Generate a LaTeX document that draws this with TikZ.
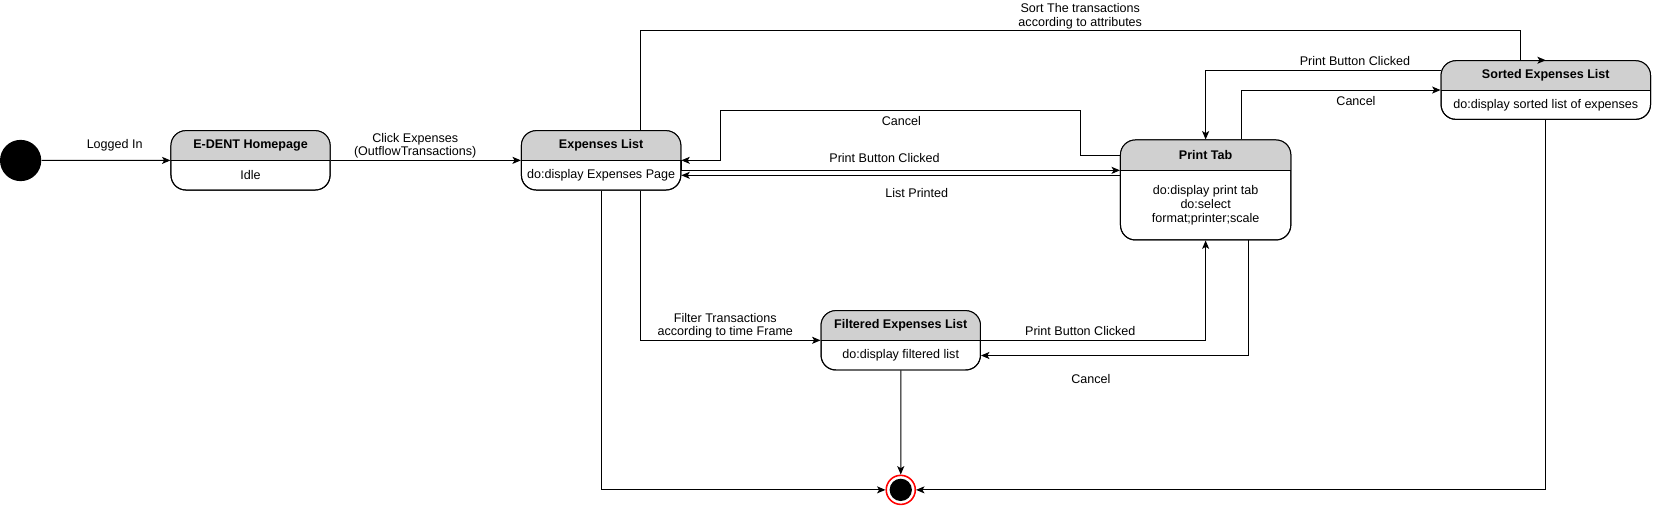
\documentclass[tikz,border=0pt]{standalone}
\usepackage{fontspec}
\setmainfont{Liberation Sans}
\usetikzlibrary{arrows.meta}
\definecolor{hdr}{HTML}{D0D0D0}
\tikzset{
  every node/.style={font=\fontsize{8.9}{9.6}\selectfont},
  stline/.style={line width=0.7pt, rounded corners=10.5pt},
  stbox/.style={draw, fill=white, line width=0.7pt, rounded corners=10.5pt, inner sep=0pt},
  hdrtxt/.style={font=\fontsize{8.9}{9.6}\selectfont\bfseries, inner sep=0pt},
  bodytxt/.style={align=center, inner sep=0pt, font=\fontsize{8.9}{9.9}\selectfont},
  lbl/.style={align=center, inner sep=0pt},
  arr/.style={-{Stealth[length=6pt,width=5pt,inset=1.5pt]}, line width=0.7pt},
}
% name, x1, y1, x2, y2, ysplit, header, body
\newcommand\ustate[8]{%
  \node[stbox, minimum width={(#4-#2)*0.75pt}, minimum height={(#5-#3)*0.75pt}] (#1) at ({(#2+#4)/2},{(#3+#5)/2}) {};
  \begin{scope}
    \clip[rounded corners=10.5pt] (#2,#3) rectangle (#4,#5);
    \fill[hdr] (#2,#3) rectangle (#4,#6);
  \end{scope}
  \draw[stline] (#2,#3) rectangle (#4,#5);
  \draw[line width=0.7pt] (#2,#6) -- (#4,#6);
  \node[hdrtxt] (#1-hdr) at ({(#2+#4)/2},{(#3+#6)/2}) {#7};
  \node[bodytxt] (#1-body) at ({(#2+#4)/2},{(#6+#5)/2}) {#8};
}
\begin{document}
\begin{tikzpicture}[x=0.75pt, y=-0.75pt]
\useasboundingbox (0,0) rectangle (1568,478);

% states
\node[circle, fill=black, minimum size=29.25pt, inner sep=0pt] (init) at (19.5,151.7) {};
\ustate{home}{161.6}{123.5}{312}{179.6}{152}{E-DENT Homepage}{Idle}
\ustate{exp}{492.8}{123.5}{643.5}{179.6}{152}{Expenses List}{do:display Expenses Page}
\ustate{print}{1059}{132.3}{1220}{226.8}{161.3}{Print Tab}{do:display print tab\\do:select\\format;printer;scale}
\ustate{sorted}{1362}{57.4}{1560}{112.8}{85.7}{Sorted Expenses List}{do:display sorted list of expenses}
\ustate{filt}{776}{293.6}{926.7}{349.7}{321.7}{Filtered Expenses List}{do:display filtered list}
\node[circle, draw=red, line width=1.1pt, fill=white, minimum size=20.6pt, inner sep=0pt] (final) at (851.35,463) {};
\fill[black] (final.center) circle[radius=7.9pt];

% helper coordinates
\coordinate (yPBexp) at (0,161);
\coordinate (yLP) at (0,165.7);
\coordinate (yCan) at (0,146.5);
\coordinate (cxR) at (1021.6,104);
\coordinate (cxL) at (681,104);
\coordinate (sx) at (605.6,29);
\coordinate (sy) at (1437,29);
\coordinate (yPBs) at (0,66.8);
\coordinate (xCs) at (1173,0);
\coordinate (xCf) at (1180,0);
\coordinate (yCf) at (0,336);

% connectors
\draw[arr] (init) -- (home);
\draw[arr] (home) -- (exp);
\draw[arr] (exp.east) -- (exp.east |- yPBexp) -- (print.west |- yPBexp);
\draw[arr] (print.west |- yLP) -- (exp.east |- yLP);
\draw[arr] (print.west |- yCan) -| (cxR) -- (cxL) |- (exp.east);
\draw[arr] (sx |- exp.north) -- (sx) -- (sy) -- (sy |- sorted.north) -- (sorted.north);
\draw[arr] (sorted.west |- yPBs) -| (print.north);
\draw[arr] (xCs |- print.north) |- (sorted.west);
\draw[arr] (sorted.south) |- (final.east);
\draw[arr] (exp.south) |- (final.west);
\draw[arr] (sx |- exp.south) |- (filt.west);
\draw[arr] (filt.south) -- (final.north);
\draw[arr] (filt.east) -| (print.south);
\draw[arr] (xCf |- print.south) |- (filt.east |- yCf);

% labels
\node[lbl] (lLogged) at (108.4,137.7) {Logged In};
\node[lbl] (lClick) at (392.4,137.7) {Click Expenses\\(OutflowTransactions)};
\node[lbl] (lSort) at (1021,15.3) {Sort The transactions\\according to attributes};
\node[lbl] (lCancel1) at (852,114) {Cancel};
\node[lbl] (lPB1) at (836,149) {Print Button Clicked};
\node[lbl] (lLP) at (866.5,182) {List Printed};
\node[lbl] (lPB2) at (1280.6,57.7) {Print Button Clicked};
\node[lbl] (lCancel2) at (1281.6,95) {Cancel};
\node[lbl] (lFilter) at (685.5,307.7) {Filter Transactions\\according to time Frame};
\node[lbl] (lPB3) at (1021,312.5) {Print Button Clicked};
\node[lbl] (lCancel3) at (1031,358.5) {Cancel};
\end{tikzpicture}
\end{document}
